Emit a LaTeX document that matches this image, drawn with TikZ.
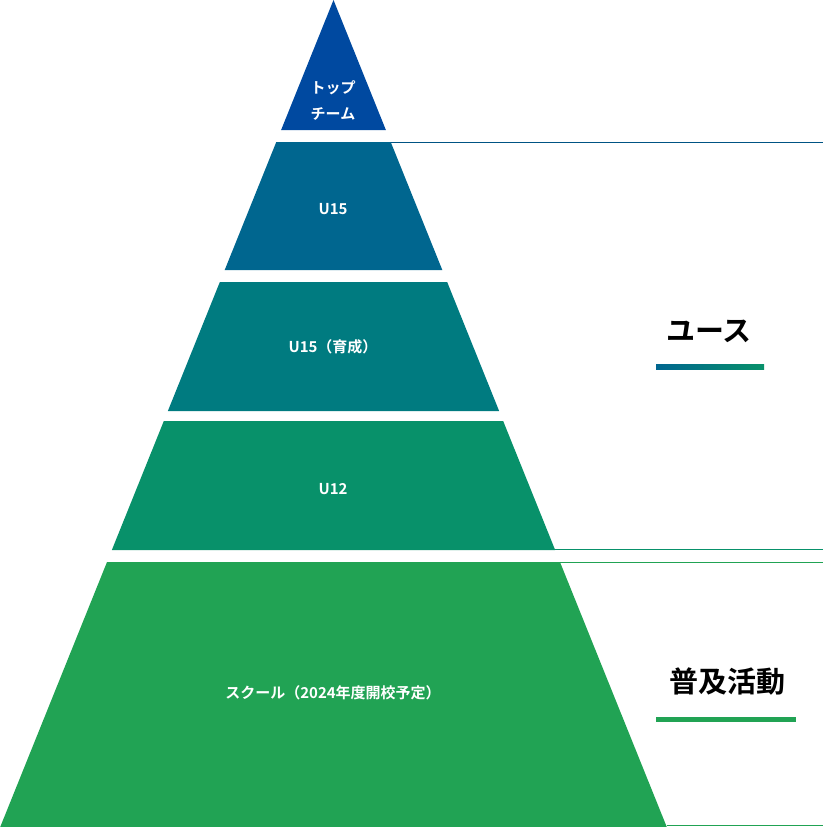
\documentclass[tikz,border=0pt]{standalone}
\usepackage{fontspec}
\setmainfont{Noto Sans CJK JP}[BoldFont={* Bold}]
\begin{document}
\begin{tikzpicture}[x=1pt,y=-1pt,
  lbl/.style={text=white,font=\bfseries\fontsize{15}{18}\selectfont,inner sep=0pt},
  head/.style={text=black,font=\bfseries\fontsize{29}{34}\selectfont,inner sep=0pt}]
\definecolor{c1}{HTML}{0049A0}
\definecolor{c2}{HTML}{00668F}
\definecolor{c3}{HTML}{007B80}
\definecolor{c4}{HTML}{08916A}
\definecolor{c5}{HTML}{21A354}
\definecolor{ln}{HTML}{005484}
\useasboundingbox (0,0) rectangle (823,827);
\def\hw#1{0.403*#1}
\fill[c1] (333.5,0) -- ({333.5+0.403*130},130) -- ({333.5-0.403*130},130) -- cycle;
\fill[c2] ({333.5-0.403*142},142) -- ({333.5+0.403*142},142) -- ({333.5+0.403*270},270) -- ({333.5-0.403*270},270) -- cycle;
\fill[c3] ({333.5-0.403*282},282) -- ({333.5+0.403*282},282) -- ({333.5+0.403*411},411) -- ({333.5-0.403*411},411) -- cycle;
\fill[c4] ({333.5-0.403*421},421) -- ({333.5+0.403*421},421) -- ({333.5+0.403*550},550) -- ({333.5-0.403*550},550) -- cycle;
\fill[c5] ({333.5-0.403*562},562) -- ({333.5+0.403*562},562) -- ({333.5+0.403*827},827) -- ({333.5-0.403*827},827) -- cycle;
\coordinate (a1) at ({333.5+0.403*142},142.5);
\coordinate (b1) at (823,142.5);
\coordinate (a2) at ({333.5+0.403*550},549.5);
\coordinate (b2) at (823,549.5);
\coordinate (a3) at ({333.5+0.403*562},562.5);
\coordinate (b3) at (823,562.5);
\coordinate (a4) at ({333.5+0.403*827},825.5);
\coordinate (b4) at (823,825.5);
\draw[ln,line width=1.3pt] (a1) -- (b1);
\draw[c4,line width=1.3pt] (a2) -- (b2);
\draw[c5,line width=1.3pt] (a3) -- (b3);
\draw[c5,line width=1.3pt] (a4) -- (b4);
\node[lbl] (t1) at (333,88) {トップ};
\node[lbl] (t2) at (333,114) {チーム};
\node[lbl] (u15) at (333,209) {U15};
\node[lbl] (u15i) at (333,347) {U15（育成）};
\node[lbl] (u12) at (333,489) {U12};
\node[lbl] (sc) at (333,693) {スクール（2024年度開校予定）};
\node[head] (y) at (709,331) {ユース};
\node[head] (f) at (727,682) {普及活動};
\shade[left color=c2,right color=c4] (656,364) rectangle (764,369);
\fill[c5] (656,717) rectangle (796,722);
\end{tikzpicture}
\end{document}
